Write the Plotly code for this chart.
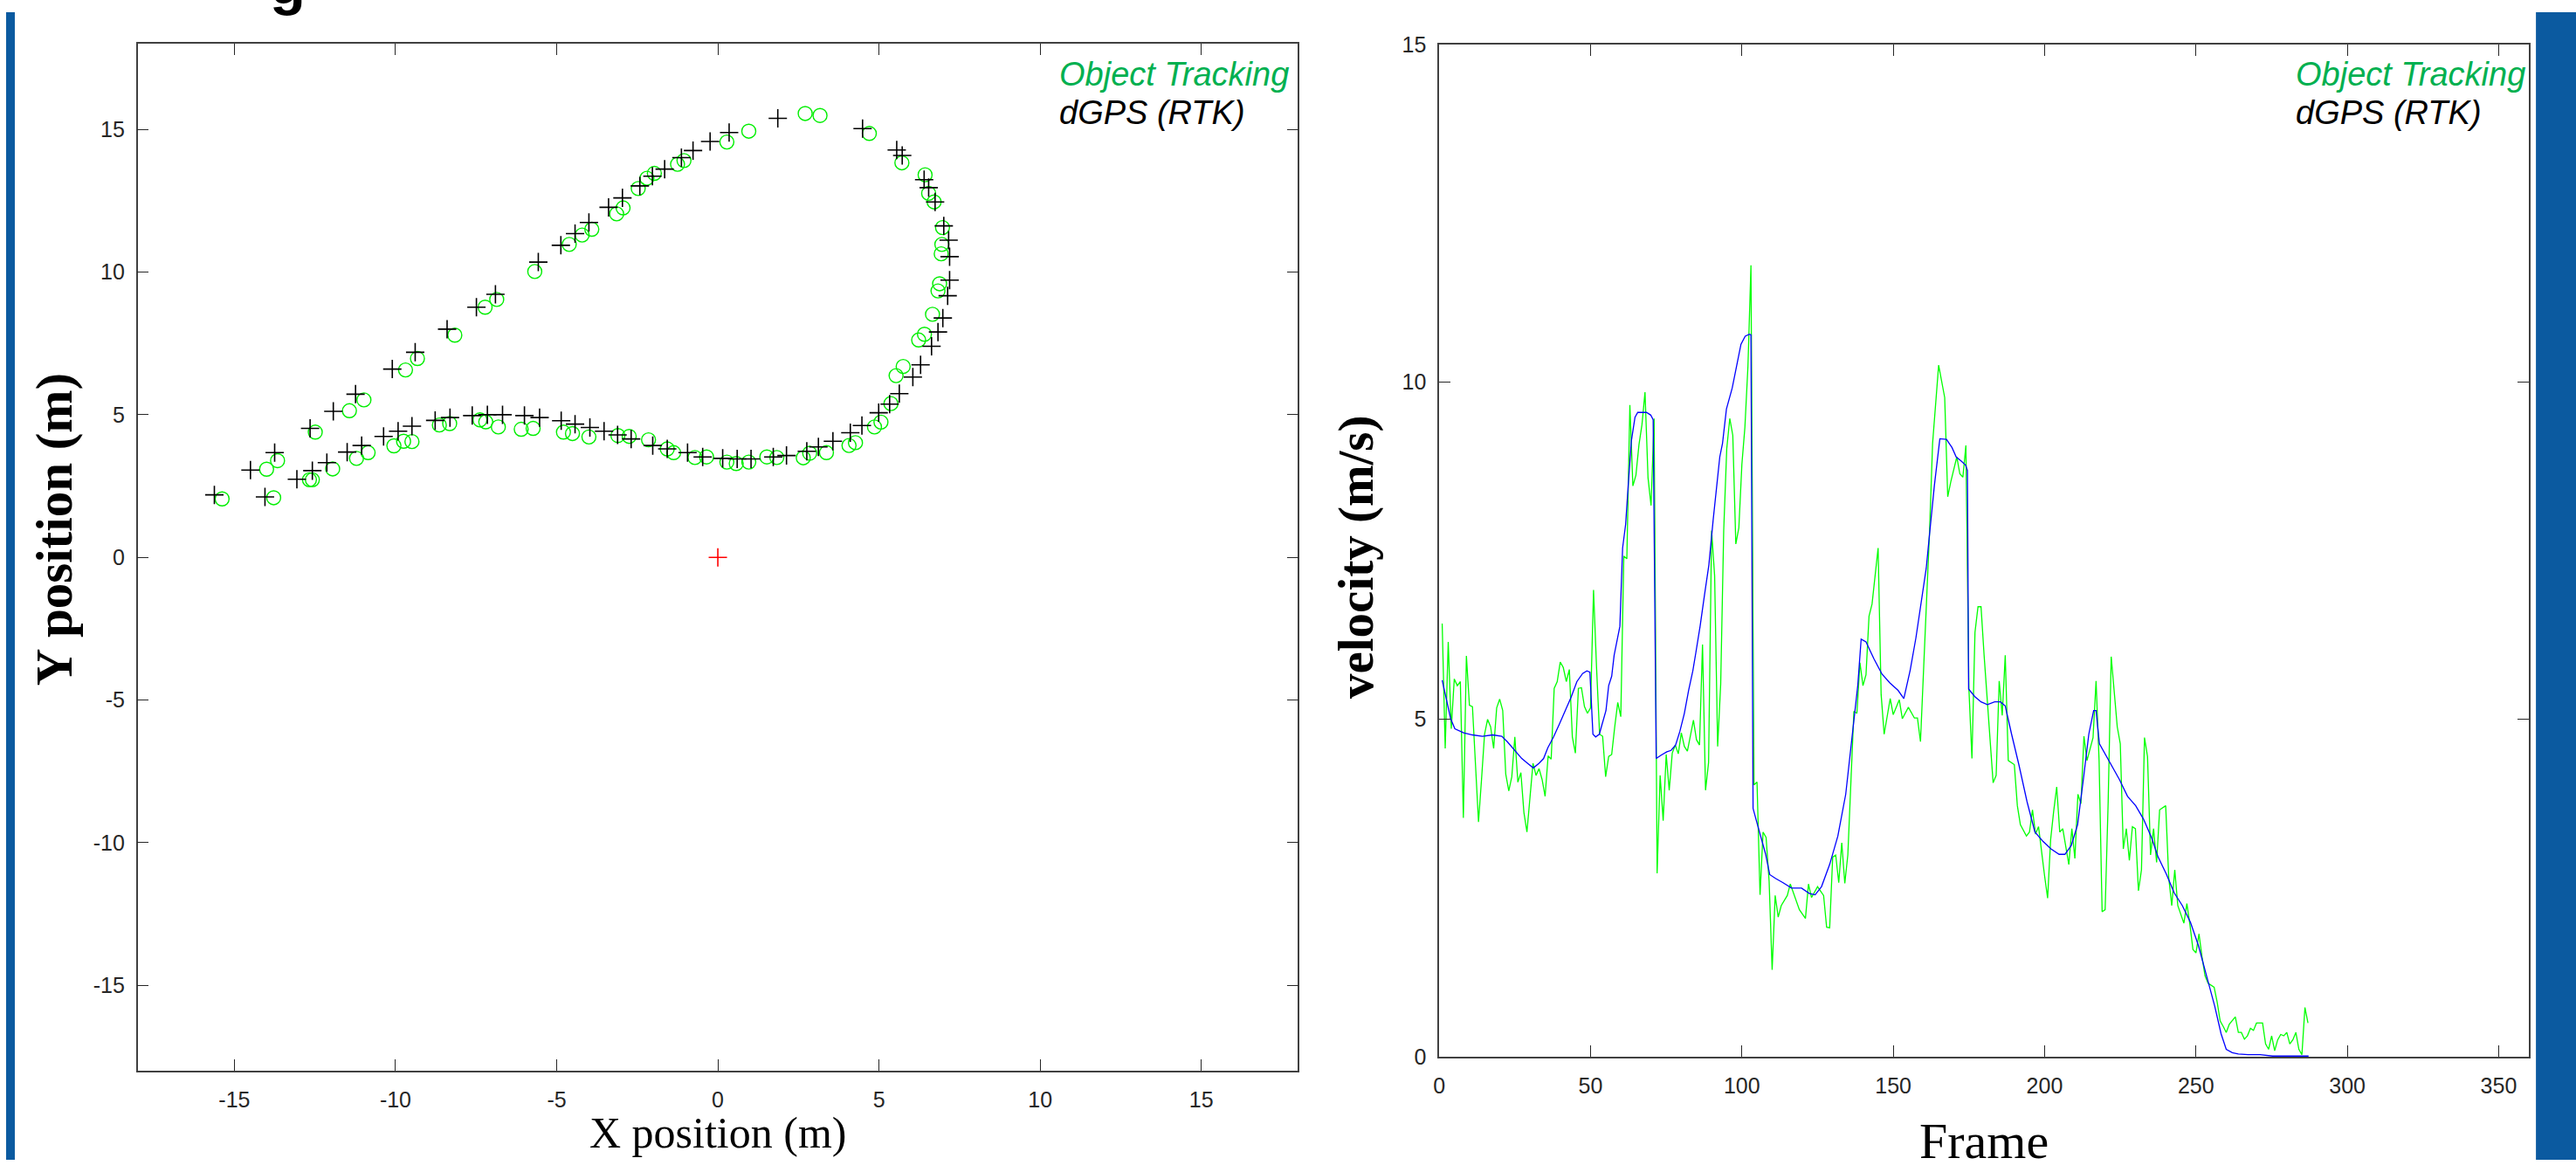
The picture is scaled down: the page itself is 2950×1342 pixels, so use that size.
import plotly.graph_objects as go

# ---------------- data : left panel (positions, metres) ----------------
gps_x = [-15.62, -14.50, -14.05, -13.75, -13.06, -12.58, -12.65, -12.13, -11.93, -11.50,
         -11.24, -11.05, -10.37, -10.10, -9.92, -9.49, -9.39, -8.77, -8.40, -8.31,
         -7.62, -7.49, -7.15, -6.90, -6.68, -6.00, -5.57, -5.53, -4.87, -4.86,
         -4.43, -4.43, -4.00, -3.97, -3.53, -3.39, -3.11, -2.96, -2.69, -2.42,
         -2.03, -2.02, -1.65, -1.57, -1.13, -0.94, -0.77, -0.47, -0.24, 0.15,
         0.35, 0.60, 1.03, 1.72, 1.86, 2.13, 2.76, 3.12, 3.57, 4.11,
         4.47, 4.49, 4.99, 5.33, 5.55, 5.63, 5.72, 6.05, 6.29, 6.40,
         6.54, 6.63, 6.74, 6.83, 6.98, 7.01, 7.13, 7.16, 7.19, 7.19]
gps_y = [2.19, 3.06, 2.12, 3.67, 2.74, 3.04, 4.52, 3.32, 5.12, 3.69,
         5.72, 3.92, 4.24, 6.60, 4.42, 4.60, 7.19, 4.80, 8.00, 4.90,
         4.97, 8.77, 5.00, 9.22, 5.00, 4.97, 10.35, 4.90, 10.94, 4.79,
         11.35, 4.67, 11.74, 4.55, 4.42, 12.27, 4.29, 12.60, 4.15, 13.02,
         13.36, 3.92, 13.61, 3.80, 14.01, 3.67, 14.26, 3.52, 14.58, 3.47,
         14.89, 3.45, 3.45, 3.52, 15.39, 3.57, 3.72, 3.87, 4.07, 4.37,
         4.62, 15.03, 5.07, 5.37, 14.28, 5.74, 14.09, 6.32, 6.75, 13.24,
         12.96, 7.40, 12.46, 7.90, 8.39, 11.62, 9.17, 11.12, 10.54, 9.72]

trk_x = [-15.38, -14.00, -13.78, -13.66, -12.67, -12.58, -12.49, -11.95, -11.43, -11.21,
         -10.98, -10.85, -10.05, -9.75, -9.69, -9.49, -9.32, -8.64, -8.32, -8.16,
         -7.38, -7.22, -7.20, -6.86, -6.81, -6.10, -5.73, -5.68, -4.79, -4.61,
         -4.51, -4.21, -4.00, -3.91, -3.14, -3.10, -2.94, -2.75, -2.47, -2.20,
         -2.15, -1.97, -1.57, -1.37, -1.25, -1.05, -0.71, -0.35, 0.28, 0.28,
         0.57, 0.96, 0.96, 1.52, 1.83, 2.65, 2.71, 2.85, 3.17, 3.37,
         4.07, 4.27, 4.70, 4.86, 5.06, 5.37, 5.53, 5.71, 5.75, 6.23,
         6.41, 6.43, 6.54, 6.66, 6.71, 6.83, 6.88, 6.93, 6.95, 6.97]
trk_y = [2.05, 3.09, 2.09, 3.39, 2.72, 2.72, 4.39, 3.10, 5.14, 3.47,
         5.52, 3.67, 3.91, 4.07, 6.57, 4.06, 6.97, 4.64, 4.69, 7.79,
         4.82, 8.77, 4.75, 9.04, 4.57, 4.49, 4.52, 10.02, 4.39, 10.97,
         4.34, 11.30, 4.22, 11.50, 12.04, 4.27, 12.25, 4.24, 12.93, 13.29,
         4.12, 13.46, 3.80, 3.67, 13.78, 13.91, 3.50, 3.52, 3.34, 14.56,
         3.29, 3.34, 14.94, 3.52, 3.50, 3.49, 15.56, 3.65, 15.49, 3.67,
         3.92, 4.02, 14.86, 4.57, 4.74, 5.39, 6.37, 13.83, 6.69, 7.62,
         7.82, 13.41, 12.76, 8.52, 12.46, 9.34, 9.59, 10.64, 10.97, 11.56]

origin_x = [0.0]
origin_y = [0.0]

# ---------------- data : right panel (velocity, m/s) ----------------
track_frames = list(range(1, 117)) + [
    119, 121, 122, 123, 125, 127, 128, 129, 130, 131, 132, 133, 134, 135, 137, 138, 139, 140,
    141, 142, 143, 145, 146, 147, 149, 150, 152, 153, 155, 157, 158, 159, 162, 163, 165, 167,
    168, 169, 171, 172, 173, 174, 175, 176, 177, 178, 179, 180, 181, 183, 184, 185, 186, 187,
    188, 190, 191, 192, 194, 195, 196, 197, 198, 199, 200, 201, 202, 203, 204, 205, 206, 208,
    209, 210, 211, 212, 213, 214, 216, 217, 218, 219, 220, 221, 222, 224, 225, 226, 227, 228,
    229, 230, 231, 232, 233, 234, 235, 236, 237, 238, 240, 241, 242, 243, 244, 246, 247, 248,
    249, 250, 251, 252, 253, 254, 256, 257, 258, 259, 260, 261, 262, 263, 264, 265, 266, 267,
    268, 269, 270, 272, 273, 274, 275, 276, 277, 278, 279, 280, 281, 282, 283, 284, 285, 286, 287]
track_speed = [
    6.42, 4.57, 6.15, 4.86, 5.60, 5.50, 5.56, 3.54, 5.94, 5.21,
    5.19, 4.27, 3.48, 4.11, 4.78, 5.00, 4.89, 4.57, 5.17, 5.30,
    5.13, 4.19, 3.94, 4.15, 4.74, 4.07, 4.21, 3.62, 3.33, 3.84,
    4.35, 4.17, 4.27, 4.11, 3.86, 4.46, 4.41, 5.46, 5.56, 5.85,
    5.77, 5.56, 5.74, 4.74, 4.50, 5.46, 5.47, 5.19, 5.09, 5.17,
    6.92, 5.76, 4.78, 4.75, 4.15, 4.45, 4.48, 4.89, 5.25, 5.04,
    7.42, 7.38, 9.66, 8.46, 8.62, 9.07, 9.37, 9.85, 8.58, 8.17,
    9.46, 2.72, 4.17, 3.50, 4.48, 3.95, 4.50, 4.62, 4.49, 4.80,
    4.60, 4.53, 4.78, 4.99, 4.70, 4.62, 6.11, 3.95, 4.36, 7.80,
    7.13, 4.60, 5.52, 7.80, 9.01, 9.46, 9.21, 7.60, 7.84, 8.78,
    9.33, 10.23, 11.73, 4.03, 4.07, 2.40, 3.33, 3.25, 2.60, 1.29,
    2.39, 2.07, 2.24, 2.32, 2.39, 2.56,
    2.18, 2.05, 2.56, 2.36, 2.52, 2.39, 1.92, 1.91, 2.96, 2.99, 2.58, 3.17, 2.57, 2.99, 5.12, 5.09, 5.84, 5.50,
    5.66, 6.53, 6.71, 7.54, 5.37, 4.78, 5.31, 5.07, 5.29, 5.01, 5.18, 5.02, 5.02, 4.67, 7.79, 9.09, 10.25, 9.77,
    8.30, 8.52, 8.89, 8.64, 8.59, 9.06, 5.45, 4.42, 6.29, 6.67, 6.67, 5.96, 5.29, 4.06, 4.17, 5.57, 5.06, 5.95,
    4.39, 4.33, 3.72, 3.44, 3.27, 3.33, 3.66, 3.30, 3.41, 3.02, 2.68, 2.35, 3.22, 3.64, 4.00, 3.33, 3.38, 2.85,
    3.38, 2.94, 3.89, 3.75, 4.75, 4.39, 4.73, 5.57, 4.39, 2.15, 2.18, 3.78, 5.93, 4.89, 4.64, 3.08, 3.38, 2.91,
    3.41, 3.38, 2.46, 2.77, 4.73, 4.45, 2.99, 3.38, 2.88, 3.66, 3.72, 2.66, 2.24, 2.77, 2.24, 1.98, 2.27, 1.96,
    1.59, 1.54, 1.82, 1.48, 1.20, 1.09, 1.03, 0.81, 0.53, 0.45, 0.36, 0.48, 0.53, 0.59, 0.36, 0.36, 0.26, 0.31,
    0.42, 0.39, 0.50, 0.50, 0.19, 0.11, 0.31, 0.09, 0.25, 0.33, 0.31, 0.36, 0.19, 0.25, 0.36, 0.11, 0.03, 0.73, 0.50]

gps_frames = [
    1, 3.8, 5.2, 8.1, 11.0, 14.3, 17.7, 20.7, 22.5, 24.4, 27.3, 29.2, 31.1, 33.0, 34.5, 35.9,
    37.8, 39.7, 41.6, 43.6, 45.5, 47.4, 48.8, 49.8, 50.8, 51.7, 52.9, 54.1, 55.1, 56.0, 57.0,
    57.8, 58.7, 59.7, 60.6, 61.6, 62.5, 63.5, 64.7, 65.6, 68.5, 69.9, 70.7, 71.7, 73.3, 75.2,
    76.6, 78.1, 79.5, 81.0, 82.4, 83.8, 84.8, 86.2, 87.7, 89.1, 90.5, 91.7, 92.7, 93.6, 94.9,
    96.8, 98.2, 99.7, 101.1, 102.5, 103.0, 103.7, 104.9, 106.4, 107.8, 109.2, 111.2, 113.6, 116.4,
    119.7, 122.3, 124.2, 126.3, 129.0, 131.7, 134.3, 137.0, 138.3, 139.4, 141.0, 143.6, 146.3,
    148.9, 151.6, 153.5, 155.6, 157.5, 159.1, 160.9, 162.2, 163.6, 165.4, 167.6, 169.4, 170.8,
    172.4, 173.9, 174.5, 174.9, 176.9, 179.0, 181.1, 183.5, 185.4, 187.0, 189.1, 191.5, 194.2,
    196.8, 199.5, 202.1, 204.8, 206.7, 208.8, 210.9, 212.8, 214.6, 216.2, 217.0, 218.1, 219.9,
    222.1, 224.7, 227.4, 230.1, 232.7, 235.4, 237.5, 240.2, 242.8, 245.5, 248.2, 250.8, 253.5,
    256.2, 258.3, 260.0, 262.0, 264.0, 267.2, 271.2, 275.3, 280.6, 287.2]
gps_speed = [
    5.58, 5.01, 4.86, 4.80, 4.77, 4.75, 4.77, 4.75, 4.67, 4.57, 4.42, 4.35, 4.28, 4.35, 4.42, 4.58,
    4.74, 4.93, 5.13, 5.33, 5.56, 5.68, 5.72, 5.70, 4.78, 4.74, 4.78, 4.99, 5.13, 5.50, 5.64,
    5.95, 6.15, 6.38, 7.54, 7.89, 8.50, 9.13, 9.48, 9.55, 9.55, 9.51, 9.44, 4.42, 4.47, 4.52,
    4.54, 4.62, 4.82, 5.09, 5.43, 5.72, 5.99, 6.38, 6.86, 7.29, 7.95, 8.50, 8.89, 9.09, 9.60,
    9.91, 10.23, 10.56, 10.68, 10.71, 10.70, 3.68, 3.48, 3.25, 3.01, 2.70, 2.64, 2.58, 2.50,
    2.50, 2.42, 2.40, 2.52, 2.85, 3.27, 3.89, 5.01, 5.51, 6.19, 6.15, 5.90, 5.67,
    5.54, 5.43, 5.31, 5.73, 6.21, 6.68, 7.24, 7.84, 8.47, 9.16, 9.15, 9.03, 8.89,
    8.83, 8.77, 8.69, 5.45, 5.34, 5.26, 5.22, 5.26, 5.26, 5.20, 4.78, 4.33, 3.78,
    3.33, 3.19, 3.08, 3.00, 3.00, 3.13, 3.44, 4.11, 4.78, 5.13, 5.13, 4.64, 4.50,
    4.33, 4.11, 3.86, 3.72, 3.52, 3.24, 2.96, 2.71, 2.43, 2.24, 1.99, 1.65, 1.20,
    0.75, 0.34, 0.11, 0.06, 0.04, 0.03, 0.03, 0.01, 0.01, 0.01]

# ---------------- axes ticks ----------------
pos_ticks = [-15, -10, -5, 0, 5, 10, 15]
pos_tick_labels = ["-15", "-10", "-5", "0", "5", "10", "15"]
frame_ticks = [0, 50, 100, 150, 200, 250, 300, 350]
frame_tick_labels = ["0", "50", "100", "150", "200", "250", "300", "350"]
vel_ticks = [0, 5, 10, 15]
vel_tick_labels = ["0", "5", "10", "15"]

legend_labels = ["Object Tracking", "dGPS (RTK)"]

# ---------------- layout helpers ----------------
W, H = 2950, 1342


def px_x(p):
    return p / W


def px_y(p):
    return 1 - p / H


TRACK_GREEN = "#00ee00"
LEG_GREEN = "#00b050"
AX_COLOR = "#262626"
SANS = "Liberation Sans, Arial, Helvetica, sans-serif"
SERIF = "Liberation Serif, Times New Roman, Times, serif"

fig = go.Figure()

# left panel
fig.add_trace(go.Scatter(
    x=trk_x, y=trk_y, mode="markers", name=legend_labels[0],
    marker=dict(symbol="circle-open", size=16, color=TRACK_GREEN,
                line=dict(color=TRACK_GREEN, width=1.4)),
    xaxis="x", yaxis="y", showlegend=False))
fig.add_trace(go.Scatter(
    x=gps_x, y=gps_y, mode="markers", name=legend_labels[1],
    marker=dict(symbol="cross-thin", size=15, color="black",
                line=dict(color="black", width=1.6)),
    xaxis="x", yaxis="y", showlegend=False))
fig.add_trace(go.Scatter(
    x=origin_x, y=origin_y, mode="markers", name="origin",
    marker=dict(symbol="cross-thin", size=15, color="#ff0000",
                line=dict(color="#ff0000", width=1.6)),
    xaxis="x", yaxis="y", showlegend=False))

# right panel
fig.add_trace(go.Scatter(
    x=track_frames, y=track_speed, mode="lines", name=legend_labels[0],
    line=dict(color="#00ff00", width=1.3), xaxis="x2", yaxis="y2", showlegend=False))
fig.add_trace(go.Scatter(
    x=gps_frames, y=gps_speed, mode="lines", name=legend_labels[1],
    line=dict(color="#0000ff", width=1.3), xaxis="x2", yaxis="y2", showlegend=False))

axis_common = dict(
    showgrid=False, zeroline=False, showline=True, linecolor="#404040", linewidth=1.5,
    mirror="ticks", ticks="inside", ticklen=13, tickwidth=1.3, tickcolor=AX_COLOR,
    tickfont=dict(family=SANS, size=25, color=AX_COLOR), fixedrange=True)

fig.update_layout(
    width=W, height=H, autosize=False,
    margin=dict(l=0, r=0, t=0, b=0, pad=0),
    paper_bgcolor="white", plot_bgcolor="white",
    xaxis=dict(domain=[px_x(151), px_x(1483)], range=[-18, 18],
               tickvals=pos_ticks, ticktext=pos_tick_labels, anchor="y",
               ticklabelstandoff=10, **axis_common),
    yaxis=dict(domain=[px_y(1238), px_y(37)], range=[-18, 18],
               tickvals=pos_ticks, ticktext=pos_tick_labels, anchor="x",
               ticklabelstandoff=8, **axis_common),
    xaxis2=dict(domain=[px_x(1645), px_x(2896)], range=[0, 360],
                tickvals=frame_ticks, ticktext=frame_tick_labels, anchor="y2",
                ticklabelstandoff=10, **axis_common),
    yaxis2=dict(domain=[px_y(1221.5), px_y(38)], range=[0, 15],
                tickvals=vel_ticks, ticktext=vel_tick_labels, anchor="x2",
                ticklabelstandoff=8, **axis_common),
)

ann = []
# axis titles
ann.append(dict(text="X position (m)", x=px_x(817), y=px_y(1310), xref="paper", yref="paper",
                xanchor="center", yanchor="middle", showarrow=False,
                font=dict(family=SERIF, size=50, color="black")))
ann.append(dict(text="Frame", x=px_x(2270), y=px_y(1320), xref="paper", yref="paper",
                xanchor="center", yanchor="middle", showarrow=False,
                font=dict(family=SERIF, size=58, color="black")))
ann.append(dict(text="<b>Y position (m)</b>", x=px_x(56), y=px_y(605), xref="paper", yref="paper",
                xanchor="center", yanchor="middle", showarrow=False, textangle=-90,
                font=dict(family=SERIF, size=59, color="black")))
ann.append(dict(text="<b>velocity (m/s)</b>", x=px_x(1549), y=px_y(637), xref="paper", yref="paper",
                xanchor="center", yanchor="middle", showarrow=False, textangle=-90,
                font=dict(family=SERIF, size=57, color="black")))
# legend texts
for lx in (1207, 2626):
    ann.append(dict(text=legend_labels[0], x=px_x(lx), y=px_y(73), xref="paper", yref="paper",
                    xanchor="left", yanchor="middle", showarrow=False,
                    font=dict(family=SANS, size=38, color=LEG_GREEN, style="italic")))
    ann.append(dict(text=legend_labels[1], x=px_x(lx), y=px_y(117), xref="paper", yref="paper",
                    xanchor="left", yanchor="middle", showarrow=False,
                    font=dict(family=SANS, size=38, color="black", style="italic")))
# clipped title fragment at the top edge
ann.append(dict(text="<b>g</b>", x=px_x(323), y=px_y(6), xref="paper", yref="paper",
                xanchor="center", yanchor="bottom", showarrow=False,
                font=dict(family=SANS, size=67, color="black")))
fig.update_layout(annotations=ann)

# blue side strips of the slide
fig.update_layout(shapes=[
    dict(type="rect", xref="paper", yref="paper", x0=0, x1=px_x(10), y0=0, y1=1,
         fillcolor="#0b5aa0", line=dict(width=0), layer="above"),
    dict(type="rect", xref="paper", yref="paper", x0=px_x(2904), x1=1, y0=0, y1=1,
         fillcolor="#0b5aa0", line=dict(width=0), layer="above"),
])

fig.write_html("out.html", config={"displayModeBar": False},
               post_script="document.body.style.margin='0';")
